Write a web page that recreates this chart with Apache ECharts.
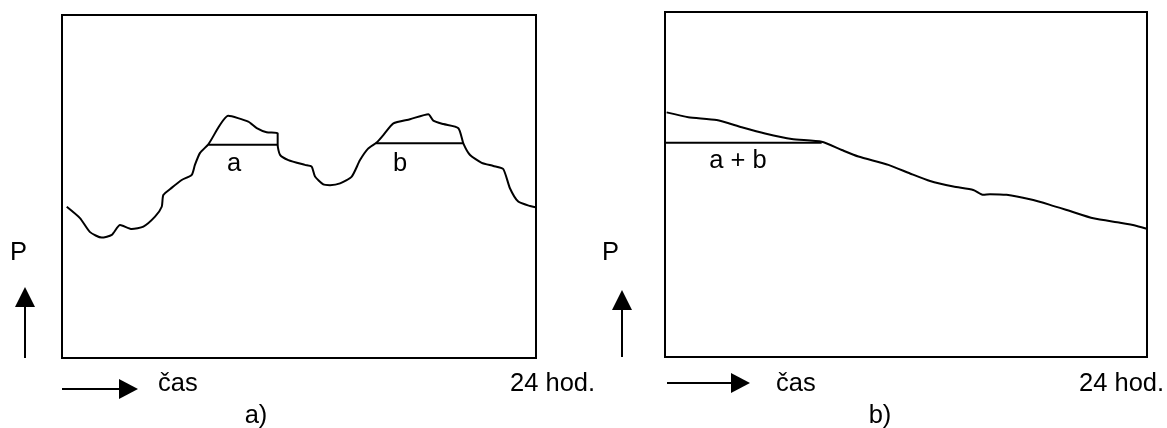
<!DOCTYPE html>
<html>
<head>
<meta charset="utf-8">
<script src="https://cdn.jsdelivr.net/npm/echarts@6/dist/echarts.min.js"></script>
<style>html,body{margin:0;padding:0;background:#fff;}#c{width:1167px;height:428px;}</style>
</head>
<body>
<div id="c"></div>
<script>
// Panel a) daily load curve: time (hours) and power (relative units)
const timeA = [0.24,0.91,1.42,2.01,2.52,2.94,3.53,4.12,4.71,5.05,5.13,5.55,6.06,6.57,6.73,6.99,7.41,8.42,9.43,9.86,10.36,10.92,10.92,11.04,11.46,12.30,12.64,12.81,13.23,13.57,14.08,14.67,15.09,15.51,15.93,16.27,16.78,17.62,18.55,18.80,19.31,20.07,20.32,20.66,21.25,21.84,22.34,22.68,23.10,23.70,24.04,24.37];
const powerA = [44.1,40.8,36.7,35.1,35.9,38.8,37.6,38.3,41.2,44.1,47.5,49.6,51.9,53.4,56.3,59.8,62.3,70.6,68.9,67.0,65.8,65.5,62.1,59.2,57.7,56.3,55.8,52.9,50.6,50.4,50.9,52.9,57.7,61.1,62.8,65.0,68.4,69.6,71.1,69.2,68.2,67.0,62.6,59.2,56.9,56.0,55.1,49.5,45.6,44.3,43.9,42.9];
// Level lines a and b in panel a)
const levelA = {from: 7.41, to: 10.92, value: 62.2};
const levelB = {from: 15.89, to: 20.32, value: 62.6};

// Panel b) curve
const timeB = [0.08,1.16,2.57,3.82,4.98,6.31,7.80,8.80,9.63,11.12,12.20,13.20,14.36,15.35,15.85,16.18,17.01,18.17,19.17,20.17,21.33,22.66,23.49,23.99,24.32];
const powerB = [70.9,69.5,68.7,66.6,64.8,63.2,62.4,60.0,58.1,55.7,53.2,51.0,49.4,48.4,47.0,47.2,47.0,45.7,44.1,42.3,40.2,38.9,38.0,37.2,37.0];
const levelAB = {from: 0, to: 7.80, value: 62.1};

// Text labels
const yLabel = 'P';
const xLabel = 'čas';
const xEndLabel = '24 hod.';
const panelLabels = ['a)', 'b)'];
const areaLabels = ['a', 'b', 'a + b'];

const zip = (xs, ys) => xs.map((x, i) => [x, ys[i]]);
const FONT = '"Liberation Sans", Arial, sans-serif';
const lineStyle = {color: '#000', width: 2};

function txt(x, y, s, align) {
  return {type: 'text', x: x, y: y, style: {text: s, fill: '#000', font: '25.5px ' + FONT, textAlign: align || 'left', textVerticalAlign: 'middle'}};
}
function vArrow(x, tipY, bottomY) {
  return [
    {type: 'line', shape: {x1: x, y1: tipY + 18, x2: x, y2: bottomY}, style: {stroke: '#000', lineWidth: 2}},
    {type: 'polygon', shape: {points: [[x, tipY], [x - 10, tipY + 20], [x + 10, tipY + 20]]}, style: {fill: '#000'}}
  ];
}
function hArrow(y, startX, tipX) {
  return [
    {type: 'line', shape: {x1: startX, y1: y, x2: tipX - 18, y2: y}, style: {stroke: '#000', lineWidth: 2}},
    {type: 'polygon', shape: {points: [[tipX, y], [tipX - 19, y - 10], [tipX - 19, y + 10]]}, style: {fill: '#000'}}
  ];
}

const chart = echarts.init(document.getElementById('c'), null, {renderer: 'canvas'});
const axisX = (gi) => ({type: 'value', gridIndex: gi, min: 0, max: 24, show: false});
const axisY = (gi) => ({type: 'value', gridIndex: gi, min: 0, max: 100, show: false});
function levelSeries(gi, lv) {
  return {type: 'line', xAxisIndex: gi, yAxisIndex: gi, data: [[lv.from, lv.value], [lv.to, lv.value]],
    symbol: 'none', lineStyle: {color: '#000', width: 2}, clip: false, silent: true};
}

chart.setOption({
  animation: false,
  backgroundColor: '#fff',
  grid: [
    {left: 62, top: 15, width: 474, height: 343, show: true, borderColor: '#000', borderWidth: 2},
    {left: 665, top: 12, width: 482, height: 345, show: true, borderColor: '#000', borderWidth: 2}
  ],
  xAxis: [axisX(0), axisX(1)],
  yAxis: [axisY(0), axisY(1)],
  series: [
    {type: 'line', xAxisIndex: 0, yAxisIndex: 0, data: zip(timeA, powerA), smooth: 0.2, symbol: 'none', lineStyle: lineStyle, clip: false},
    levelSeries(0, levelA),
    levelSeries(0, levelB),
    {type: 'line', xAxisIndex: 1, yAxisIndex: 1, data: zip(timeB, powerB), smooth: 0.2, symbol: 'none', lineStyle: lineStyle, clip: false},
    levelSeries(1, levelAB)
  ],
  graphic: [
    txt(234, 164, areaLabels[0], 'center'),
    txt(400, 164, areaLabels[1], 'center'),
    txt(738, 161, areaLabels[2], 'center'),
    txt(10, 253, yLabel),
    txt(602, 253, yLabel),
    ...vArrow(25, 287, 358),
    ...vArrow(622, 290, 357),
    ...hArrow(389, 62, 138),
    ...hArrow(383, 667, 750),
    txt(158, 384, xLabel),
    txt(776, 384, xLabel),
    txt(510, 384, xEndLabel),
    txt(1079, 384, xEndLabel),
    txt(256, 416, panelLabels[0], 'center'),
    txt(880, 416, panelLabels[1], 'center')
  ]
});
</script>
</body>
</html>
